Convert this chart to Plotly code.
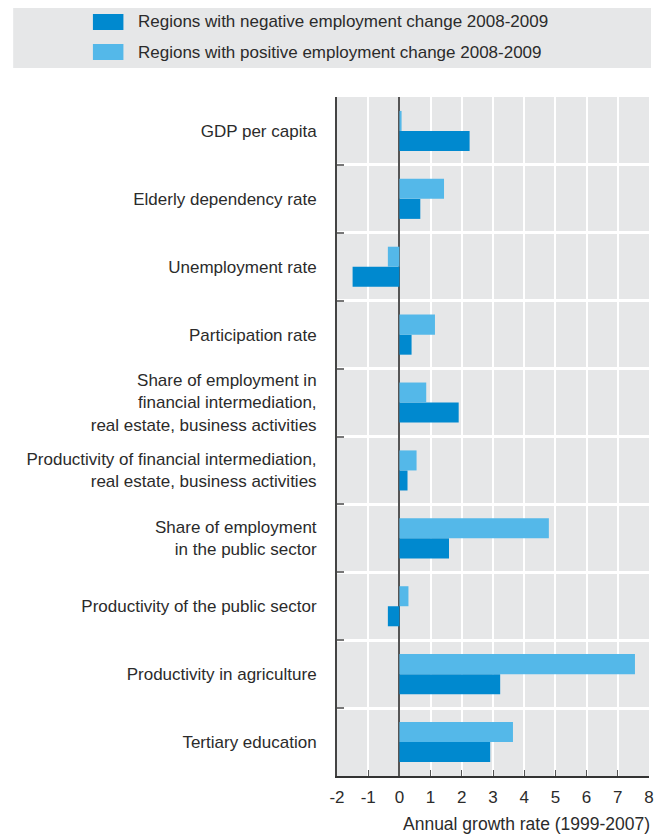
import plotly.graph_objects as go

categories = [
    "GDP per capita",
    "Elderly dependency rate",
    "Unemployment rate",
    "Participation rate",
    "Share of employment in<br>financial intermediation,<br>real estate, business activities",
    "Productivity of financial intermediation,<br>real estate, business activities",
    "Share of employment<br>in the public sector",
    "Productivity of the public sector",
    "Productivity in agriculture",
    "Tertiary education",
]
negative_change = [2.25, 0.67, -1.50, 0.39, 1.90, 0.26, 1.59, -0.37, 3.23, 2.91]
positive_change = [0.07, 1.43, -0.37, 1.14, 0.86, 0.55, 4.79, 0.29, 7.55, 3.64]
series_names = [
    "Regions with negative employment change 2008-2009",
    "Regions with positive employment change 2008-2009",
]
x_ticks = [-2, -1, 0, 1, 2, 3, 4, 5, 6, 7, 8]
x_title = "Annual growth rate (1999-2007)"

DARK = "#0089cf"
LIGHT = "#54b8e9"
FONT = "Liberation Sans, Arial, sans-serif"
TXT = "#2b2b2b"

# page body has an 8px margin; figure origin sits at page (8, 8)
OFF = 8
W, H = 666 - OFF, 836 - OFF
L, T = 337 - OFF, 97 - OFF
R = W - (654 - OFF)
B = H - (776 - OFF)
PW, PH = W - L - R, H - T - B


def px_x(px):
    return (px - OFF - L) / PW


def px_y(py):
    return (H - B - (py - OFF)) / PH


cats_rev = categories[::-1]
fig = go.Figure()
fig.add_trace(go.Bar(y=cats_rev, x=negative_change[::-1], orientation="h",
                     marker=dict(color=DARK, line=dict(width=0)), name=series_names[0]))
fig.add_trace(go.Bar(y=cats_rev, x=positive_change[::-1], orientation="h",
                     marker=dict(color=LIGHT, line=dict(width=0)), name=series_names[1]))

shapes = [
    dict(type="rect", xref="paper", yref="paper", x0=px_x(8), x1=px_x(656),
         y0=px_y(68), y1=px_y(OFF), fillcolor="#e6e7e8", line=dict(width=0), layer="below"),
    dict(type="rect", xref="paper", yref="paper", x0=px_x(89), x1=px_x(120),
         y0=px_y(30), y1=px_y(14), fillcolor=DARK, line=dict(width=0)),
    dict(type="rect", xref="paper", yref="paper", x0=px_x(89), x1=px_x(120),
         y0=px_y(60), y1=px_y(44), fillcolor=LIGHT, line=dict(width=0)),
]
annotations = [
    dict(xref="paper", yref="paper", x=px_x(133), y=px_y(22), text=series_names[0],
         showarrow=False, xanchor="left", yanchor="middle", font=dict(size=17, color=TXT, family=FONT)),
    dict(xref="paper", yref="paper", x=px_x(133), y=px_y(52), text=series_names[1],
         showarrow=False, xanchor="left", yanchor="middle", font=dict(size=17, color=TXT, family=FONT)),
    dict(xref="paper", yref="paper", x=1.0, y=px_y(824), text=x_title,
         showarrow=False, xanchor="right", yanchor="middle", xshift=3,
         font=dict(size=17.5, color=TXT, family=FONT)),
]

fig.update_layout(
    width=W, height=H,
    margin=dict(l=L, r=R, t=T, b=B, pad=0),
    paper_bgcolor="white", plot_bgcolor="#e6e7e8",
    barmode="group", bargap=0.41, bargroupgap=0,
    showlegend=False,
    font=dict(family=FONT, size=17, color=TXT),
    shapes=shapes, annotations=annotations,
    xaxis=dict(range=[-2, 8], tickvals=x_ticks, ticktext=[str(v) for v in x_ticks],
               showgrid=True, gridcolor="white", gridwidth=2,
               zeroline=True, zerolinecolor="#555555", zerolinewidth=2,
               showline=True, linecolor="#333333", linewidth=2,
               ticks="inside", ticklen=6, tickcolor="#555555", tickwidth=1,
               ticklabeloverflow="allow",
               tickfont=dict(size=17, color=TXT), ticklabelstandoff=5, fixedrange=True),
    yaxis=dict(type="category", categoryorder="array", categoryarray=cats_rev,
               tickson="boundaries", showgrid=True, gridcolor="white", gridwidth=3,
               showline=True, linecolor="#444444", linewidth=2,
               ticks="inside", ticklen=7, tickcolor="#777777", tickwidth=2,
               tickfont=dict(size=17, color=TXT), ticklabelstandoff=15, fixedrange=True),
)

fig.write_html("out.html", config={"displayModeBar": False})
